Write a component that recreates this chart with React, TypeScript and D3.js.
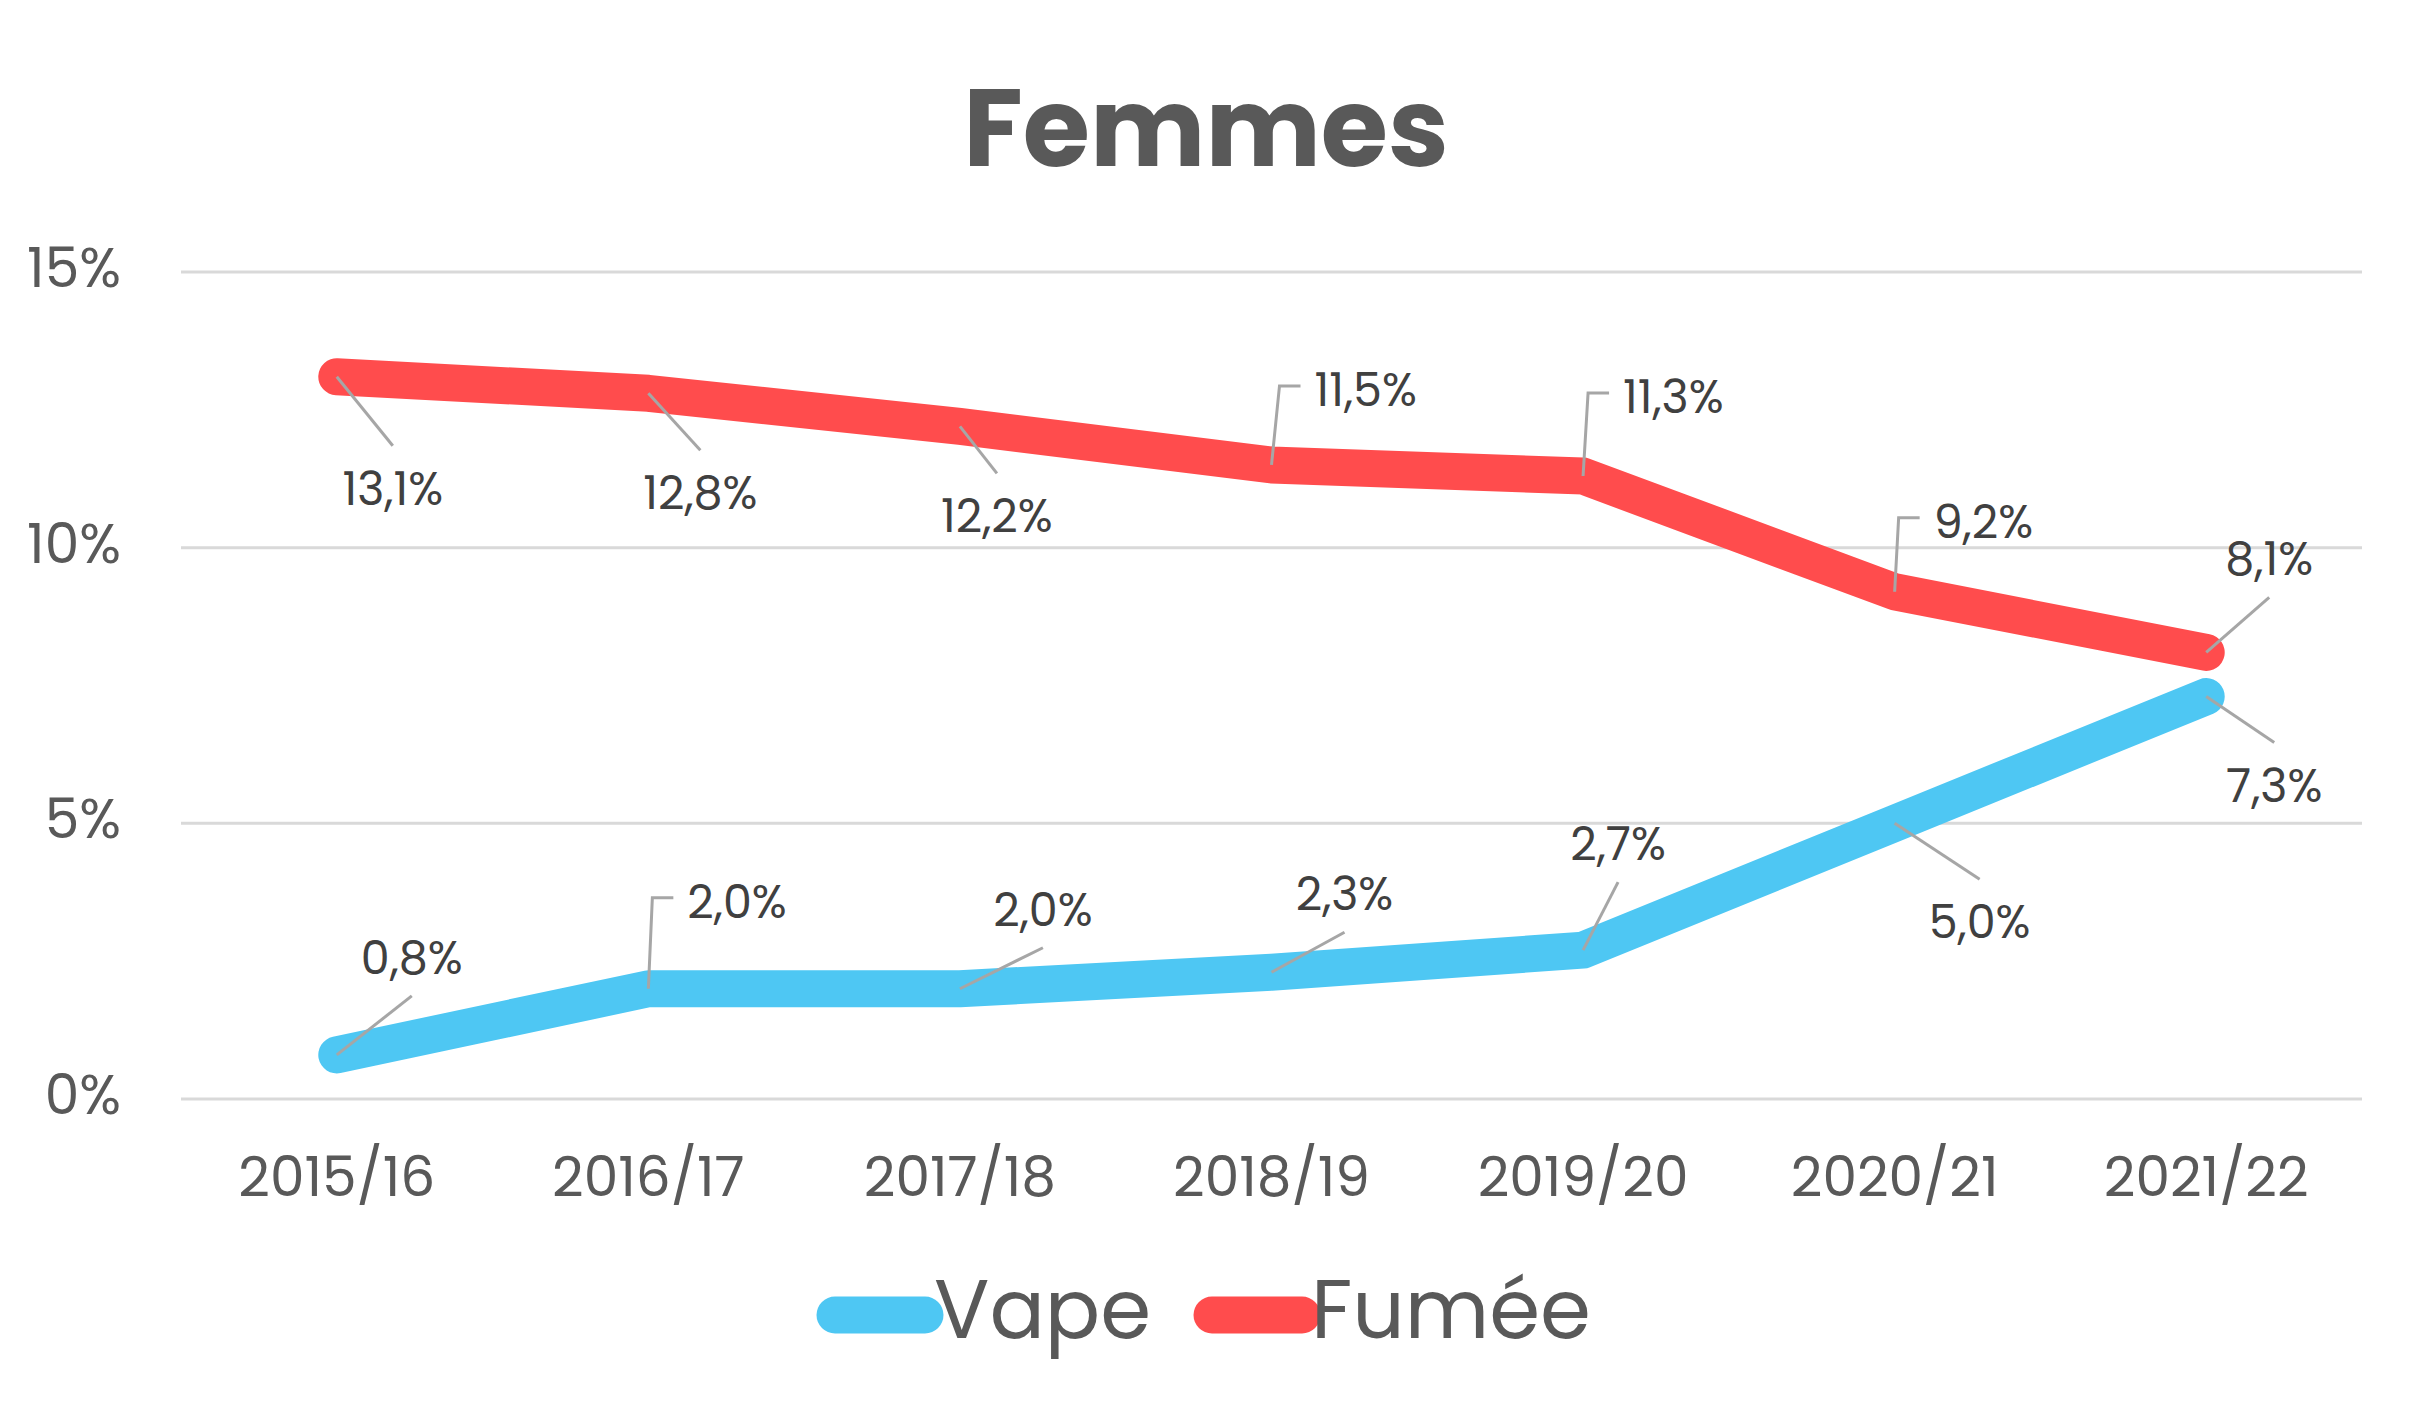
import * as React from 'react';
import * as d3 from 'd3';

const categories = ['2015/16', '2016/17', '2017/18', '2018/19', '2019/20', '2020/21', '2021/22'];
const vape = [0.8, 2.0, 2.0, 2.3, 2.7, 5.0, 7.3];
const fumee = [13.1, 12.8, 12.2, 11.5, 11.3, 9.2, 8.1];
const yTicks = [0, 5, 10, 15];
const seriesNames = ['Vape', 'Fumée'];
const seriesColors = ['#4EC7F3', '#FF4C4D'];

// leader line for each data label, offset in px from the point.
// 'up' / 'down' = straight leader with text above / below its end, 'elbow' = bent leader with text to the right
type Leader = [string, number, number];
const vapeLeaders: Leader[] = [
  ['up', 75, -59], ['elbow', 4, -91], ['up', 83, -41], ['up', 73, -40],
  ['up', 35, -68], ['down', 85, 56], ['down', 68, 46],
];
const fumeeLeaders: Leader[] = [
  ['down', 56, 69], ['down', 52, 57], ['down', 37, 47], ['elbow', 8, -79],
  ['elbow', 5, -83], ['elbow', 4, -74], ['up', 63, -55],
];

const W = 2420;
const H = 1420;
const font = 'Poppins, Inter, "Open Sans", sans-serif';

const fmt = (v: number) => v.toFixed(1).replace('.', ',') + '%';

const App: React.FC = () => {
  const x = d3.scaleBand<string>().domain(categories).range([181, 2362]);
  const cx = (c: string) => (x(c) || 0) + x.bandwidth() / 2;
  const y = d3.scaleLinear().domain([0, 15]).range([1099, 272]);
  const line = d3.line<number>().x((d, i) => cx(categories[i])).y((d) => y(d));

  const series = [vape, fumee];
  const leaders = [vapeLeaders, fumeeLeaders];

  return (
    <svg width={W} height={H} style={{ position: 'absolute', left: 0, top: 0, background: '#fff' }} fontFamily={font}>
      <text x={1206} y={166} textAnchor="middle" fontSize={109} fontWeight={700} fill="#595959">Femmes</text>

      <g>
        {yTicks.map((t) => (
          <g key={t}>
            <line x1={181} x2={2362} y1={y(t)} y2={y(t)} stroke="#d9d9d9" strokeWidth={3} />
            <text x={121} y={y(t) + 15} textAnchor="end" fontSize={55} fill="#595959">{t}%</text>
          </g>
        ))}
      </g>

      <g>
        {categories.map((c) => (
          <text key={c} x={cx(c)} y={1196} textAnchor="middle" fontSize={55} fill="#595959">{c}</text>
        ))}
      </g>

      {series.map((s, k) => (
        <path key={k} d={line(s) || ''} fill="none" stroke={seriesColors[k]} strokeWidth={37}
          strokeLinecap="round" strokeLinejoin="round" />
      ))}

      {series.map((s, k) => (
        <g key={k}>
          {s.map((v, i) => {
            const px = cx(categories[i]);
            const py = y(v);
            const [kind, dx, dy] = leaders[k][i];
            const ex = px + dx;
            const ey = py + dy;
            if (kind === 'elbow') {
              return (
                <g key={i}>
                  <path d={`M${px},${py}L${ex},${ey}l21,0`} fill="none" stroke="#a6a6a6" strokeWidth={3} />
                  <text x={ex + 35} y={ey + 20} fontSize={46} fill="#404040">{fmt(v)}</text>
                </g>
              );
            }
            return (
              <g key={i}>
                <line x1={px} y1={py} x2={ex} y2={ey} stroke="#a6a6a6" strokeWidth={3} />
                <text x={ex} y={kind === 'up' ? ey - 22 : ey + 59} textAnchor="middle" fontSize={46} fill="#404040">
                  {fmt(v)}
                </text>
              </g>
            );
          })}
        </g>
      ))}

      <g>
        {seriesNames.map((n, k) => {
          const x0 = k === 0 ? 835 : 1212;
          return (
            <g key={n}>
              <line x1={x0} x2={x0 + 90} y1={1315} y2={1315} stroke={seriesColors[k]} strokeWidth={37} strokeLinecap="round" />
              <text x={x0 + 99} y={1338} fontSize={82} fill="#595959">{n}</text>
            </g>
          );
        })}
      </g>
    </svg>
  );
};

export default App;
